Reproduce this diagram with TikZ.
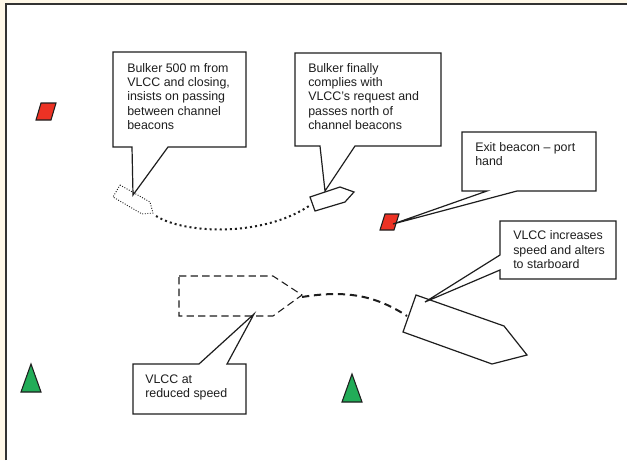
\documentclass[tikz,border=0pt]{standalone}
\usepackage{fontspec}
\setmainfont{Liberation Sans}
\definecolor{cream}{RGB}{255,248,232}
\definecolor{framegray}{RGB}{50,50,50}
\definecolor{ink}{RGB}{30,30,30}
\definecolor{beaconred}{RGB}{236,50,36}
\definecolor{beacongreen}{RGB}{34,172,88}
\tikzset{
  outline/.style={draw=ink, line width=0.9pt, line join=miter},
  callout/.style={outline, fill=white},
  calltext/.style={anchor=north west, inner sep=0pt, align=left, text=ink,
    font=\fontsize{9.3}{10.75}\selectfont},
  redbeacon/.style={draw=ink, line width=0.8pt, fill=beaconred},
  greenbeacon/.style={draw=ink, line width=0.8pt, fill=beacongreen},
  dottedtrack/.style={draw=ink, line width=1.5pt, dash pattern=on 1.5pt off 2.3pt},
  dashedtrack/.style={draw=ink, line width=1.5pt, dash pattern=on 5.5pt off 3.5pt},
  dottedship/.style={draw=ink, line width=0.7pt, dash pattern=on 0.7pt off 1.2pt},
  dashedship/.style={draw=ink, line width=0.8pt, dash pattern=on 5.5pt off 3.2pt},
  solidship/.style={outline}
}
\begin{document}
\begin{tikzpicture}[x=0.75pt,y=-0.75pt]
\useasboundingbox (0,0) rectangle (627,460);
% frame
\fill[cream] (0,0) rectangle (627,460);
\fill[white] (6,4) rectangle (627,460);
\draw[framegray, line width=1.1pt] (6,460) -- (6,4) -- (627,4);

% beacons
\draw[redbeacon] (41,103) -- (56,103) -- (51,120) -- (36,120) -- cycle;
\draw[redbeacon] (385,214) -- (399,214) -- (394,230) -- (380,230) -- cycle;
\draw[greenbeacon] (31,364) -- (41,392) -- (21,392) -- cycle;
\draw[greenbeacon] (352,374) -- (362,402) -- (342,402) -- cycle;

% tracks
\coordinate (bulkA) at (156,216);
\coordinate (bulkB) at (309,206);
\draw[dottedtrack] (bulkA) .. controls (185,234) and (262,237) .. (bulkB);
\coordinate (vlccA) at (302,297);
\coordinate (vlccB) at (407,316);
\draw[dashedtrack] (vlccA) .. controls (345,290) and (375,295) .. (vlccB);

% callout tips
\coordinate (tip1) at (133,195);
\coordinate (tip2) at (325,191);
\coordinate (tip3) at (393,224);
\coordinate (tip4) at (425,302);
\coordinate (tip5) at (254,314);

% callouts
\draw[callout] (113,52) -- (246,52) -- (246,147) -- (168,147) -- (tip1) -- (132,147) -- (113,147) -- cycle;
\draw[callout] (295,53) -- (441,53) -- (441,146) -- (355,146) -- (tip2) -- (320,146) -- (295,146) -- cycle;
\draw[callout] (462,132) -- (596,132) -- (596,191) -- (517,191) -- (tip3) -- (487,191) -- (462,191) -- cycle;
\draw[callout] (500,221) -- (616,221) -- (616,279) -- (500,279) -- (500,270) -- (tip4) -- (500,255) -- cycle;
\draw[callout] (133,364) -- (199,364) -- (tip5) -- (227,364) -- (246,364) -- (246,414) -- (133,414) -- cycle;

\node[calltext] (t1) at (127,63) {Bulker 500 m from\\VLCC and closing,\\insists on passing\\between channel\\beacons};
\node[calltext] (t2) at (308,63) {Bulker finally\\complies with\\VLCC’s request and\\passes north of\\channel beacons};
\node[calltext] (t3) at (475,142) {Exit beacon – port\\hand};
\node[calltext] (t4) at (513,230.5) {VLCC increases\\speed and alters\\to starboard};
\node[calltext] (t5) at (145,374.5) {VLCC at\\reduced speed};

% ships
\draw[dottedship] (120,185) -- (150,202) -- (153,213) -- (142,214) -- (113,197) -- cycle;
\draw[solidship] (310,197) -- (340,187) -- (354,192) -- (345,202) -- (315,211) -- cycle;
\draw[dashedship] (179,276) -- (273,276) -- (302,295) -- (273,316) -- (179,316) -- cycle;
\draw[solidship] (416,295) -- (504,326) -- (527,355) -- (492,364) -- (403,332) -- cycle;
\end{tikzpicture}
\end{document}
